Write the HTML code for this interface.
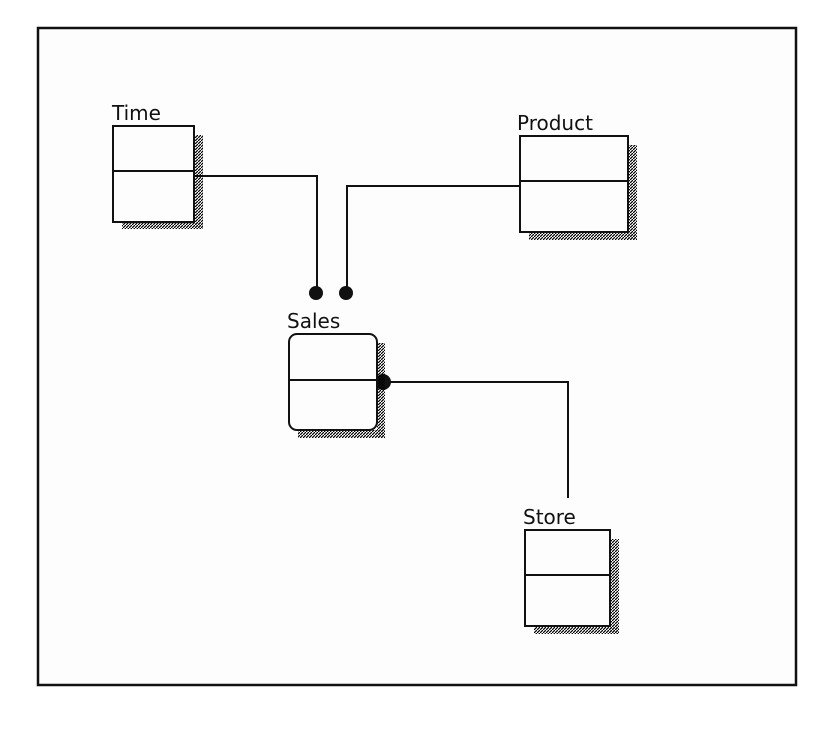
<!DOCTYPE html>
<html><head><style>body{margin:0;background:#fff}svg{display:block}</style></head><body>
<svg width="814" height="730" xmlns="http://www.w3.org/2000/svg" font-family="'DejaVu Sans','Liberation Sans',sans-serif">
<defs>
<pattern id="h" width="3" height="3" patternUnits="userSpaceOnUse"><path d="M0,3 L3,0" stroke="#000" stroke-width="1.2"/></pattern>
</defs>
<rect x="0" y="0" width="814" height="730" fill="#fff"/>
<rect x="38" y="28" width="758" height="657" fill="#fdfdfd" stroke="#111" stroke-width="2.5"/>
<g stroke="#111" stroke-width="2" fill="none">
<path d="M194,176 H317 V290"/>
<path d="M520,186 H347 V290"/>
<path d="M383,382 H568 V498"/>
</g>
<g fill="#111">
<circle cx="316" cy="293" r="7"/><circle cx="346" cy="293" r="7"/><circle cx="383" cy="382" r="8"/>
</g>
<g fill="url(#h)">
<rect x="194" y="135" width="9" height="94"/><rect x="122" y="222" width="81" height="7"/>
<rect x="628" y="145" width="9" height="95"/><rect x="529" y="232" width="108" height="8"/>
<rect x="377" y="343" width="8" height="95"/><rect x="298" y="430" width="87" height="8"/>
<rect x="610" y="539" width="9" height="95"/><rect x="534" y="626" width="85" height="8"/>
</g>
<g stroke="#111" stroke-width="2" fill="#fdfdfd">
<rect x="113" y="126" width="81" height="96"/>
<rect x="520" y="136" width="108" height="96"/>
<rect x="289" y="334" width="88" height="96" rx="8"/>
<rect x="525" y="530" width="85" height="96"/>
<path d="M113,171 H194 M520,181 H628 M289,380 H377 M525,575 H610" fill="none"/>
</g>
<g font-size="20" fill="#111">
<text x="112" y="120">Time</text>
<text x="517" y="130">Product</text>
<text x="287" y="328">Sales</text>
<text x="523" y="524">Store</text>
</g>
</svg>
</body></html>
